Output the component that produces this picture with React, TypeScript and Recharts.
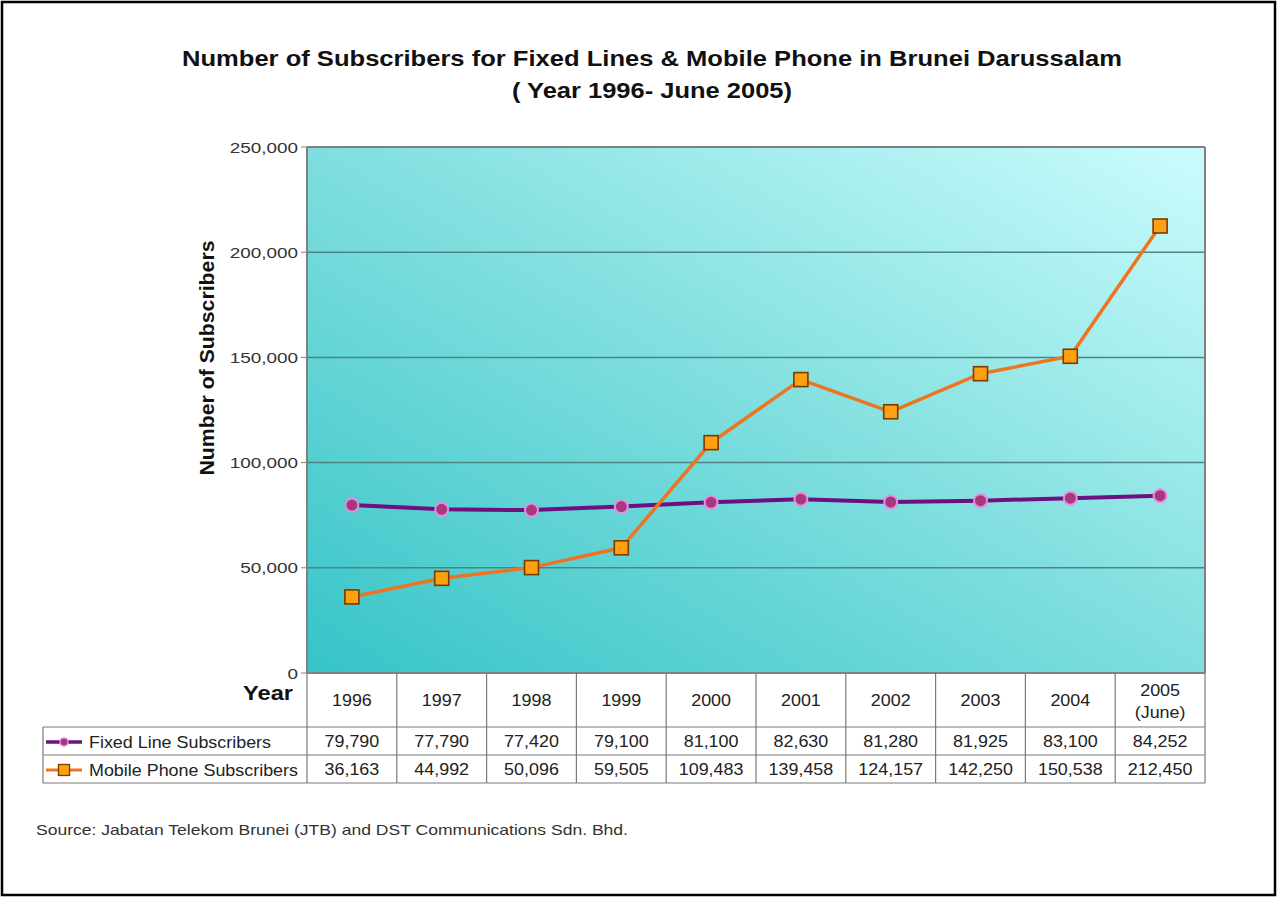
import React from 'react';
import { LineChart, Line, XAxis, YAxis, CartesianGrid } from 'recharts';

const years = ['1996', '1997', '1998', '1999', '2000', '2001', '2002', '2003', '2004', '2005\n(June)'];
const fixedLine = [79790, 77790, 77420, 79100, 81100, 82630, 81280, 81925, 83100, 84252];
const mobilePhone = [36163, 44992, 50096, 59505, 109483, 139458, 124157, 142250, 150538, 212450];
const yTicks = [0, 50000, 100000, 150000, 200000, 250000];
const seriesNames = ['Fixed Line Subscribers', 'Mobile Phone Subscribers'];

const data = years.map((y, i) => ({ year: y, fixed: fixedLine[i], mobile: mobilePhone[i] }));

const W = 1277;
const H = 897;
const PL = 307;
const PR = 1205;
const PT = 147;
const PB = 673;
const ROW1 = 727;
const ROW2 = 755;
const ROW3 = 783;
const TABLE_LEFT = 43;
const COL_HALF = (PR - PL) / years.length / 2;
const FONT = '"Liberation Sans", Arial, Helvetica, sans-serif';
const GRID = '#7a7a7a';
const PURPLE = '#6e1080';
const ORANGE = '#ee7420';

const fmt = (v: number) => v.toLocaleString('en-US');

const SquareDot = (props: any) => {
  const { cx, cy, index } = props;
  if (cx == null || cy == null) return <g key={`sq-${index}`} />;
  return (
    <rect key={`sq-${index}`} x={cx - 7} y={cy - 7} width={14} height={14} fill="#ffa010" stroke="#7a3a00" strokeWidth={1.6} />
  );
};

const CellText = ({ x, y, children }: { x: number; y: number; children: React.ReactNode }) => (
  <g transform={`translate(${x},${y}) scale(1.12,1)`}>
    <text x={0} y={0} textAnchor="middle" fontFamily={FONT} fontSize={16} fill="#222">
      {children}
    </text>
  </g>
);

const YTick = (props: any) => {
  const { x, y, payload } = props;
  return (
    <g transform={`translate(${x},${y}) scale(1.22,1)`}>
      <text x={0} y={0} dy="0.36em" textAnchor="end" fontFamily={FONT} fontSize={15.5} fill="#333">
        {fmt(payload.value)}
      </text>
    </g>
  );
};

const TableTick = (props: any) => {
  const { x, payload } = props;
  const i: number = props.index ?? payload?.index ?? 0;
  const lines = String(payload.value).split('\n');
  const l = x - COL_HALF;
  const r = x + COL_HALF;
  const txt = { fontFamily: FONT, fill: '#222' } as const;
  return (
    <g>
      <line x1={r} x2={r} y1={PB} y2={ROW3} stroke={GRID} strokeWidth={1.2} />
      {i === 0 && <line x1={l} x2={l} y1={PB} y2={ROW3} stroke={GRID} strokeWidth={1.2} />}
      <line x1={l} x2={r} y1={ROW1} y2={ROW1} stroke={GRID} strokeWidth={1.2} />
      <line x1={l} x2={r} y1={ROW2} y2={ROW2} stroke={GRID} strokeWidth={1.2} />
      <line x1={l} x2={r} y1={ROW3} y2={ROW3} stroke={GRID} strokeWidth={1.2} />
      {lines.length === 1 ? (
        <CellText x={x} y={706}>{lines[0]}</CellText>
      ) : (
        <>
          <CellText x={x} y={696}>{lines[0]}</CellText>
          <CellText x={x} y={718}>{lines[1]}</CellText>
        </>
      )}
      <CellText x={x} y={747}>{fmt(fixedLine[i])}</CellText>
      <CellText x={x} y={775}>{fmt(mobilePhone[i])}</CellText>
      {i === 0 && (
        <g>
          <text x={l - 14} y={700} textAnchor="end" fontFamily={FONT} fontSize={21} fontWeight="bold" fill="#111"
            textLength={50} lengthAdjust="spacingAndGlyphs">Year</text>
          <line x1={TABLE_LEFT} x2={l} y1={ROW1} y2={ROW1} stroke={GRID} strokeWidth={1.2} />
          <line x1={TABLE_LEFT} x2={l} y1={ROW2} y2={ROW2} stroke={GRID} strokeWidth={1.2} />
          <line x1={TABLE_LEFT} x2={l} y1={ROW3} y2={ROW3} stroke={GRID} strokeWidth={1.2} />
          <line x1={TABLE_LEFT} x2={TABLE_LEFT} y1={ROW1} y2={ROW3} stroke={GRID} strokeWidth={1.2} />
          <line x1={46} x2={82} y1={742} y2={742} stroke={PURPLE} strokeWidth={3.5} />
          <circle cx={64} cy={742} r={4} fill="#a8387c" stroke="#e68ce6" strokeWidth={1.5} />
          <text x={89} y={748} {...txt} fontSize={16.5} textLength={182} lengthAdjust="spacingAndGlyphs">{seriesNames[0]}</text>
          <line x1={46} x2={82} y1={770} y2={770} stroke={ORANGE} strokeWidth={3} />
          <rect x={58.5} y={764.5} width={11} height={11} fill="#ffa010" stroke="#7a3a00" strokeWidth={1.3} />
          <text x={89} y={776} {...txt} fontSize={16.5} textLength={209} lengthAdjust="spacingAndGlyphs">{seriesNames[1]}</text>
        </g>
      )}
    </g>
  );
};

export default function App() {
  return (
    <div style={{ position: 'absolute', left: 0, top: 0, width: W, height: H, background: '#fff' }}>
      <div
        style={{
          position: 'absolute',
          left: PL,
          top: PT,
          width: PR - PL,
          height: PB - PT,
          background: 'linear-gradient(to top right, #36c4c8 0%, #7fdede 50%, #cbfcfd 100%)',
        }}
      />
      <div style={{ position: 'absolute', left: 0, top: 0 }}>
        <LineChart width={W} height={H} data={data} margin={{ top: PT, right: W - PR, bottom: 114, left: PL - 80 }}>
          <CartesianGrid horizontal vertical={false} stroke="#4e8484" strokeWidth={1.5} />
          <XAxis
            dataKey="year"
            scale="point"
            padding={{ left: COL_HALF, right: COL_HALF }}
            interval={0}
            height={110}
            tickLine={false}
            tickSize={0}
            tickMargin={0}
            axisLine={{ stroke: '#808080', strokeWidth: 2 }}
            tick={<TableTick />}
          />
          <YAxis
            type="number"
            domain={[0, 250000]}
            ticks={yTicks}
            width={80}
            tick={<YTick />}
            tickLine={{ stroke: '#808080' }}
            tickSize={6}
            tickMargin={3}
            axisLine={{ stroke: '#808080', strokeWidth: 2 }}
          />
          <Line
            dataKey="fixed"
            name={seriesNames[0]}
            stroke={PURPLE}
            strokeWidth={4}
            dot={{ r: 6.5, fill: '#a8387c', stroke: '#e68ce6', strokeWidth: 2 }}
            isAnimationActive={false}
          />
          <Line
            dataKey="mobile"
            name={seriesNames[1]}
            stroke={ORANGE}
            strokeWidth={3.5}
            dot={<SquareDot />}
            isAnimationActive={false}
          />
        </LineChart>
      </div>
      <svg width={W} height={H} style={{ position: 'absolute', left: 0, top: 0, pointerEvents: 'none' }}>
        <line x1={PR} x2={PR} y1={PT} y2={PB} stroke="#808080" strokeWidth={2} />
        <line x1={PL} x2={PR} y1={PT} y2={PT} stroke="#808080" strokeWidth={2} />
        <text x={652} y={66} textAnchor="middle" fontFamily={FONT} fontSize={22} fontWeight="bold" fill="#111"
          textLength={940} lengthAdjust="spacingAndGlyphs">
          Number of Subscribers for Fixed Lines &amp; Mobile Phone in Brunei Darussalam
        </text>
        <text x={652} y={98} textAnchor="middle" fontFamily={FONT} fontSize={22} fontWeight="bold" fill="#111"
          textLength={280} lengthAdjust="spacingAndGlyphs">
          ( Year 1996- June 2005)
        </text>
        <text
          x={214}
          y={358}
          textAnchor="middle"
          transform="rotate(-90 214 358)"
          fontFamily={FONT}
          fontSize={21}
          fontWeight="bold"
          fill="#111"
          textLength={235}
          lengthAdjust="spacingAndGlyphs"
        >
          Number of Subscribers
        </text>
        <text x={36} y={835} fontFamily={FONT} fontSize={14.5} fill="#333" textLength={592} lengthAdjust="spacingAndGlyphs">
          Source: Jabatan Telekom Brunei (JTB) and DST Communications Sdn. Bhd.
        </text>
        <rect x={2} y={2} width={W - 4} height={H - 4} fill="none" stroke="#000" strokeWidth={2.5} />
      </svg>
    </div>
  );
}
